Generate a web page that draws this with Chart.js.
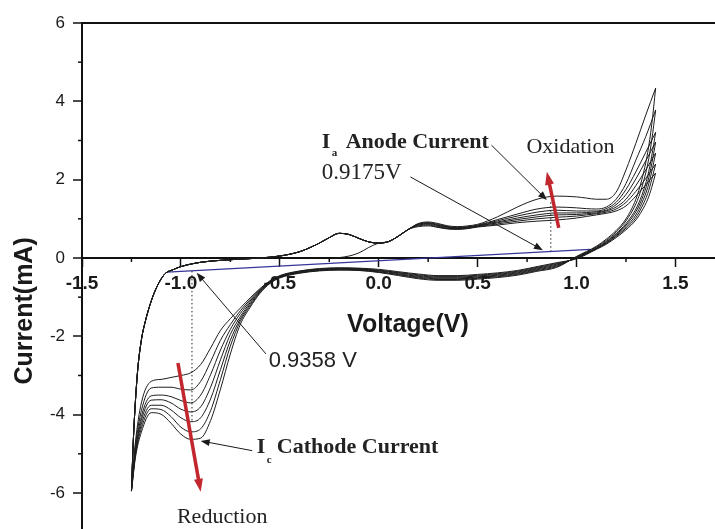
<!DOCTYPE html>
<html>
<head>
<meta charset="utf-8">
<title>Cyclic voltammogram</title>
<script src="https://cdn.jsdelivr.net/npm/chart.js@4.4.1/dist/chart.umd.min.js"></script>
<style>
  html, body { margin: 0; padding: 0; background: #fff; }
  #wrap { width: 715px; height: 529px; }
</style>
</head>
<body>
<div id="wrap"><canvas id="cvChart"></canvas></div>
<script>
// axis ticks
const xMajorTicks = [-1.5, -1.0, -0.5, 0.0, 0.5, 1.0, 1.5];
const xMinorTicks = [-1.25, -0.75, -0.25, 0.25, 0.75, 1.25];
const yMajorTicks = [-6, -4, -2, 0, 2, 4, 6];
const yMinorTicks = [-5, -3, -1, 1, 3, 5];

// first scan of cycle 1 starts at the rest potential
const firstSweepV = [-0.24, -0.2, -0.15, -0.1, -0.05];
const firstSweepI = [0.0, 0.01, 0.05, 0.13, 0.27];

// anodic (forward) sweep, part shared by all cycles
const anodicCommonV = [-1.25, -1.24, -1.22, -1.2, -1.18, -1.15, -1.12, -1.08, -1.04, -1.0,
  -0.9, -0.8, -0.7, -0.6, -0.5, -0.4, -0.35, -0.3, -0.25, -0.2, -0.15, -0.1, -0.05,
  0.0, 0.05, 0.1, 0.15];
const anodicCommonI = [-5.95, -4.6, -2.95, -2.1, -1.62, -1.1, -0.72, -0.4, -0.3, -0.22,
  -0.11, -0.06, -0.03, 0.0, 0.05, 0.16, 0.26, 0.38, 0.52, 0.63, 0.6, 0.5, 0.41,
  0.38, 0.42, 0.56, 0.73];

// anodic sweep, part that differs per cycle
const anodicUpperV = [0.2, 0.25, 0.3, 0.35, 0.4, 0.45, 0.5, 0.6, 0.7, 0.8, 0.9, 1.0, 1.05, 1.1, 1.15, 1.2, 1.25, 1.3, 1.35, 1.4];
const anodicUpperI = [
  [0.8, 0.82, 0.78, 0.74, 0.73, 0.75, 0.79, 0.84, 0.9, 0.94, 0.97, 1.02, 1.06, 1.1, 1.14, 1.2, 1.33, 1.58, 1.87, 2.17],
  [0.82, 0.84, 0.79, 0.75, 0.74, 0.76, 0.8, 0.87, 0.94, 1.0, 1.04, 1.07, 1.1, 1.13, 1.17, 1.25, 1.42, 1.7, 2.03, 2.4],
  [0.84, 0.86, 0.81, 0.76, 0.75, 0.77, 0.81, 0.9, 0.98, 1.05, 1.1, 1.11, 1.13, 1.15, 1.2, 1.3, 1.5, 1.85, 2.25, 2.68],
  [0.85, 0.88, 0.83, 0.78, 0.76, 0.78, 0.82, 0.92, 1.02, 1.1, 1.15, 1.15, 1.16, 1.18, 1.22, 1.36, 1.62, 2.02, 2.48, 2.96],
  [0.86, 0.89, 0.84, 0.79, 0.77, 0.79, 0.83, 0.95, 1.07, 1.17, 1.22, 1.2, 1.2, 1.2, 1.26, 1.42, 1.75, 2.2, 2.7, 3.21],
  [0.87, 0.9, 0.86, 0.8, 0.78, 0.8, 0.84, 0.98, 1.12, 1.25, 1.3, 1.28, 1.26, 1.25, 1.3, 1.5, 1.9, 2.5, 3.1, 3.78],
  [0.88, 0.92, 0.88, 0.82, 0.8, 0.82, 0.86, 1.05, 1.3, 1.5, 1.58, 1.56, 1.53, 1.5, 1.5, 1.68, 2.25, 2.93, 3.65, 4.34]
];

// cathodic (reverse) sweep, 1.4 V back to -1.25 V
const cathodicV = [1.4, 1.38, 1.36, 1.33, 1.3, 1.25, 1.2, 1.15, 1.1, 1.0,
  0.9, 0.8, 0.7, 0.6, 0.5, 0.4, 0.3, 0.2, 0.1, 0.0, -0.1, -0.2, -0.3, -0.4, -0.5,
  -0.55, -0.6, -0.65, -0.7, -0.75, -0.8, -0.85, -0.9, -0.95, -1.0, -1.05, -1.1, -1.15, -1.2, -1.23, -1.25];
const cathodicI = [
  [2.17, 1.8, 1.5, 1.2, 0.97, 0.72, 0.52, 0.35, 0.22, -0.02,
   -0.12, -0.22, -0.32, -0.38, -0.42, -0.45, -0.45, -0.41, -0.35, -0.29, -0.26, -0.25, -0.27, -0.33, -0.45,
   -0.58, -0.78, -1.02, -1.28, -1.55, -1.85, -2.3, -2.72, -2.93, -3.0, -3.05, -3.1, -3.15, -3.7, -4.7, -5.85],
  [2.4, 2.0, 1.65, 1.3, 1.03, 0.76, 0.55, 0.37, 0.23, -0.01,
   -0.14, -0.24, -0.34, -0.4, -0.44, -0.47, -0.47, -0.43, -0.37, -0.31, -0.27, -0.26, -0.28, -0.34, -0.46,
   -0.6, -0.8, -1.06, -1.35, -1.7, -2.1, -2.65, -3.15, -3.37, -3.35, -3.3, -3.3, -3.32, -3.9, -4.8, -5.9],
  [2.68, 2.2, 1.8, 1.4, 1.1, 0.8, 0.57, 0.38, 0.24, 0.0,
   -0.16, -0.26, -0.36, -0.42, -0.46, -0.49, -0.49, -0.45, -0.38, -0.32, -0.28, -0.27, -0.29, -0.35, -0.47,
   -0.61, -0.82, -1.1, -1.42, -1.82, -2.35, -2.98, -3.5, -3.7, -3.64, -3.54, -3.5, -3.52, -4.05, -4.9, -5.92],
  [2.96, 2.4, 1.95, 1.5, 1.18, 0.84, 0.6, 0.4, 0.25, 0.01,
   -0.18, -0.28, -0.38, -0.44, -0.48, -0.51, -0.51, -0.47, -0.4, -0.33, -0.29, -0.28, -0.3, -0.36, -0.48,
   -0.62, -0.84, -1.14, -1.5, -1.95, -2.6, -3.3, -3.8, -3.93, -3.86, -3.7, -3.62, -3.63, -4.15, -4.95, -5.93],
  [3.21, 2.6, 2.1, 1.6, 1.25, 0.88, 0.62, 0.42, 0.26, 0.02,
   -0.2, -0.3, -0.4, -0.46, -0.5, -0.53, -0.53, -0.49, -0.42, -0.35, -0.3, -0.29, -0.31, -0.37, -0.49,
   -0.63, -0.86, -1.18, -1.56, -2.1, -2.85, -3.6, -4.08, -4.18, -4.08, -3.88, -3.76, -3.76, -4.25, -5.0, -5.94],
  [3.78, 3.0, 2.4, 1.8, 1.38, 0.95, 0.66, 0.45, 0.28, 0.03,
   -0.22, -0.32, -0.42, -0.48, -0.52, -0.55, -0.55, -0.51, -0.43, -0.36, -0.31, -0.3, -0.32, -0.38, -0.5,
   -0.64, -0.88, -1.22, -1.62, -2.25, -3.1, -3.9, -4.36, -4.44, -4.32, -4.05, -3.87, -3.85, -4.35, -5.05, -5.95],
  [4.34, 3.4, 2.7, 2.0, 1.5, 1.0, 0.7, 0.48, 0.3, 0.04,
   -0.24, -0.34, -0.44, -0.5, -0.54, -0.57, -0.57, -0.53, -0.45, -0.37, -0.32, -0.31, -0.33, -0.39, -0.51,
   -0.65, -0.9, -1.26, -1.7, -2.45, -3.35, -4.15, -4.6, -4.63, -4.5, -4.22, -3.99, -3.95, -4.45, -5.1, -5.96]
];

// baseline and peak markers
const baselineV = [-1.07, 1.07];
const baselineI = [-0.36, 0.22];
const anodePeakV = [0.87, 0.87];
const anodePeakI = [0.16, 1.48];
const cathodePeakV = [-0.944, -0.944];
const cathodePeakI = [-0.33, -4.15];

function pts(xs, ys) {
  return xs.map((v, i) => ({x: v, y: ys[i]}));
}

const curveStyle = {
  showLine: true, borderColor: '#1c1c1c', borderWidth: 1, pointRadius: 0,
  cubicInterpolationMode: 'monotone', fill: false
};

const datasets = [];
const joinIdx = anodicCommonV.indexOf(0);
anodicUpperI.forEach((upper, k) => {
  let fwd;
  if (k === 0) {
    fwd = pts(firstSweepV, firstSweepI)
      .concat(pts(anodicCommonV.slice(joinIdx), anodicCommonI.slice(joinIdx)));
  } else {
    fwd = pts(anodicCommonV, anodicCommonI);
  }
  fwd = fwd.concat(pts(anodicUpperV, upper));
  datasets.push(Object.assign({}, curveStyle, {data: fwd}));
  datasets.push(Object.assign({}, curveStyle, {data: pts(cathodicV, cathodicI[k])}));
});
datasets.push({showLine: true, data: pts(baselineV, baselineI), borderColor: '#35359a', borderWidth: 1.2, pointRadius: 0});
datasets.push({showLine: true, data: pts(anodePeakV, anodePeakI), borderColor: '#222', borderWidth: 1, borderDash: [1.5, 2.5], pointRadius: 0});
datasets.push({showLine: true, data: pts(cathodePeakV, cathodePeakI), borderColor: '#222', borderWidth: 1, borderDash: [1.5, 2.5], pointRadius: 0});

function drawArrow(ctx, x1, y1, x2, y2, color, width, headLen, headW) {
  const a = Math.atan2(y2 - y1, x2 - x1);
  const c = Math.cos(a), s = Math.sin(a);
  ctx.strokeStyle = color;
  ctx.fillStyle = color;
  ctx.lineWidth = width;
  ctx.beginPath();
  ctx.moveTo(x1, y1);
  ctx.lineTo(x2 - c * headLen * 0.7, y2 - s * headLen * 0.7);
  ctx.stroke();
  ctx.beginPath();
  ctx.moveTo(x2, y2);
  ctx.lineTo(x2 - headLen * c + headW * s, y2 - headLen * s - headW * c);
  ctx.lineTo(x2 - headLen * c - headW * s, y2 - headLen * s + headW * c);
  ctx.closePath();
  ctx.fill();
}

// minor ticks, axis titles and the annotations
const decorPlugin = {
  id: 'decor',
  afterDraw(chart) {
    const ctx = chart.ctx;
    const xs = chart.scales.x, ys = chart.scales.y;
    const px = v => xs.getPixelForValue(v);
    const py = v => ys.getPixelForValue(v);
    ctx.save();

    ctx.strokeStyle = '#111';
    ctx.lineWidth = 1.5;
    xMinorTicks.forEach(v => {
      ctx.beginPath();
      ctx.moveTo(px(v), py(0));
      ctx.lineTo(px(v), py(0) + 4);
      ctx.stroke();
    });
    yMinorTicks.forEach(v => {
      ctx.beginPath();
      ctx.moveTo(xs.left - 4, py(v));
      ctx.lineTo(xs.left, py(v));
      ctx.stroke();
    });

    // axis titles
    ctx.fillStyle = '#1a1a1a';
    ctx.textBaseline = 'alphabetic';
    ctx.textAlign = 'left';
    ctx.font = 'bold 25px "Liberation Sans", Arial, sans-serif';
    ctx.fillText('Voltage(V)', px(-0.16), py(-1.89));
    ctx.save();
    ctx.translate(ys.left + 25, py(-1.35));
    ctx.rotate(-Math.PI / 2);
    ctx.textAlign = 'center';
    ctx.textBaseline = 'middle';
    ctx.fillText('Current(mA)', 0, 0);
    ctx.restore();

    // black pointer arrows
    drawArrow(ctx, px(0.57), py(2.88), px(0.85), py(1.48), '#1a1a1a', 1, 9, 3.5);
    drawArrow(ctx, px(0.16), py(2.07), px(0.83), py(0.2), '#1a1a1a', 1, 9, 3.5);
    drawArrow(ctx, px(-0.57), py(-2.45), px(-0.92), py(-0.38), '#1a1a1a', 1, 9, 3.5);
    drawArrow(ctx, px(-0.64), py(-4.92), px(-0.9), py(-4.67), '#1a1a1a', 1, 9, 3.5);

    // red trend arrows
    drawArrow(ctx, px(0.91), py(0.77), px(0.85), py(2.2), '#c1272d', 3.5, 13, 4.5);
    drawArrow(ctx, px(-1.015), py(-2.68), px(-0.9), py(-5.97), '#c1272d', 3.5, 13, 4.5);

    // labels
    ctx.fillStyle = '#222';
    ctx.textAlign = 'left';
    ctx.textBaseline = 'alphabetic';
    const serifBold = s => 'bold ' + s + 'px "Liberation Serif", "Times New Roman", serif';
    const serif = s => s + 'px "Liberation Serif", "Times New Roman", serif';

    ctx.font = serifBold(22);
    ctx.fillText('I', px(-0.288), py(2.81));
    ctx.fillText('Anode Current', px(-0.167), py(2.81));
    ctx.font = serifBold(11);
    ctx.fillText('a', px(-0.237), py(2.81) + 8);

    ctx.font = serif(23);
    ctx.fillText('0.9175V', px(-0.288), py(2.02));
    ctx.font = serif(22);
    ctx.fillText('Oxidation', px(0.747), py(2.68));
    ctx.fillText('Reduction', px(-1.02), py(-6.76));

    ctx.font = '22px "Liberation Sans", Arial, sans-serif';
    ctx.fillText('0.9358 V', px(-0.556), py(-2.78));

    ctx.font = serifBold(22);
    ctx.fillText('I', px(-0.616), py(-4.97));
    ctx.fillText('Cathode Current', px(-0.515), py(-4.97));
    ctx.font = serifBold(11);
    ctx.fillText('c', px(-0.566), py(-4.97) + 10);

    ctx.restore();
  }
};

new Chart(document.getElementById('cvChart'), {
  type: 'scatter',
  data: {datasets: datasets},
  options: {
    responsive: true,
    maintainAspectRatio: false,
    animation: false,
    layout: {padding: {top: 23, right: 0, bottom: 0, left: 0}},
    plugins: {legend: {display: false}, tooltip: {enabled: false}},
    scales: {
      x: {
        type: 'linear',
        min: -1.5,
        max: 1.7,
        position: {y: 0},
        afterFit: s => { s.height = 0; s.paddingRight = 0; },
        afterBuildTicks: s => { s.ticks = xMajorTicks.map(v => ({value: v})); },
        grid: {drawOnChartArea: false, drawTicks: true, tickLength: 8, tickColor: '#111', tickWidth: 1.5},
        border: {display: true, color: '#111', width: 2},
        ticks: {
          autoSkip: false, maxRotation: 0, padding: 6, color: '#1a1a1a',
          font: {family: '"Liberation Sans", Arial, sans-serif', size: 19, weight: 'bold'},
          callback: v => v.toFixed(1)
        }
      },
      y: {
        type: 'linear',
        min: -6.92,
        max: 6,
        position: 'left',
        afterFit: s => { s.width = 82; s.paddingBottom = 0; s.paddingTop = 0; },
        afterBuildTicks: s => { s.ticks = yMajorTicks.map(v => ({value: v})); },
        grid: {
          drawOnChartArea: true,
          color: c => (c.tick && c.tick.value === 6) ? '#111' : 'rgba(0,0,0,0)',
          lineWidth: 2,
          drawTicks: true, tickLength: 9, tickColor: '#111', tickWidth: 1.5
        },
        border: {display: true, color: '#111', width: 2},
        ticks: {
          padding: 8, color: '#1a1a1a',
          font: {family: '"Liberation Sans", Arial, sans-serif', size: 17},
          callback: v => String(v)
        }
      }
    }
  },
  plugins: [decorPlugin]
});
</script>
</body>
</html>
